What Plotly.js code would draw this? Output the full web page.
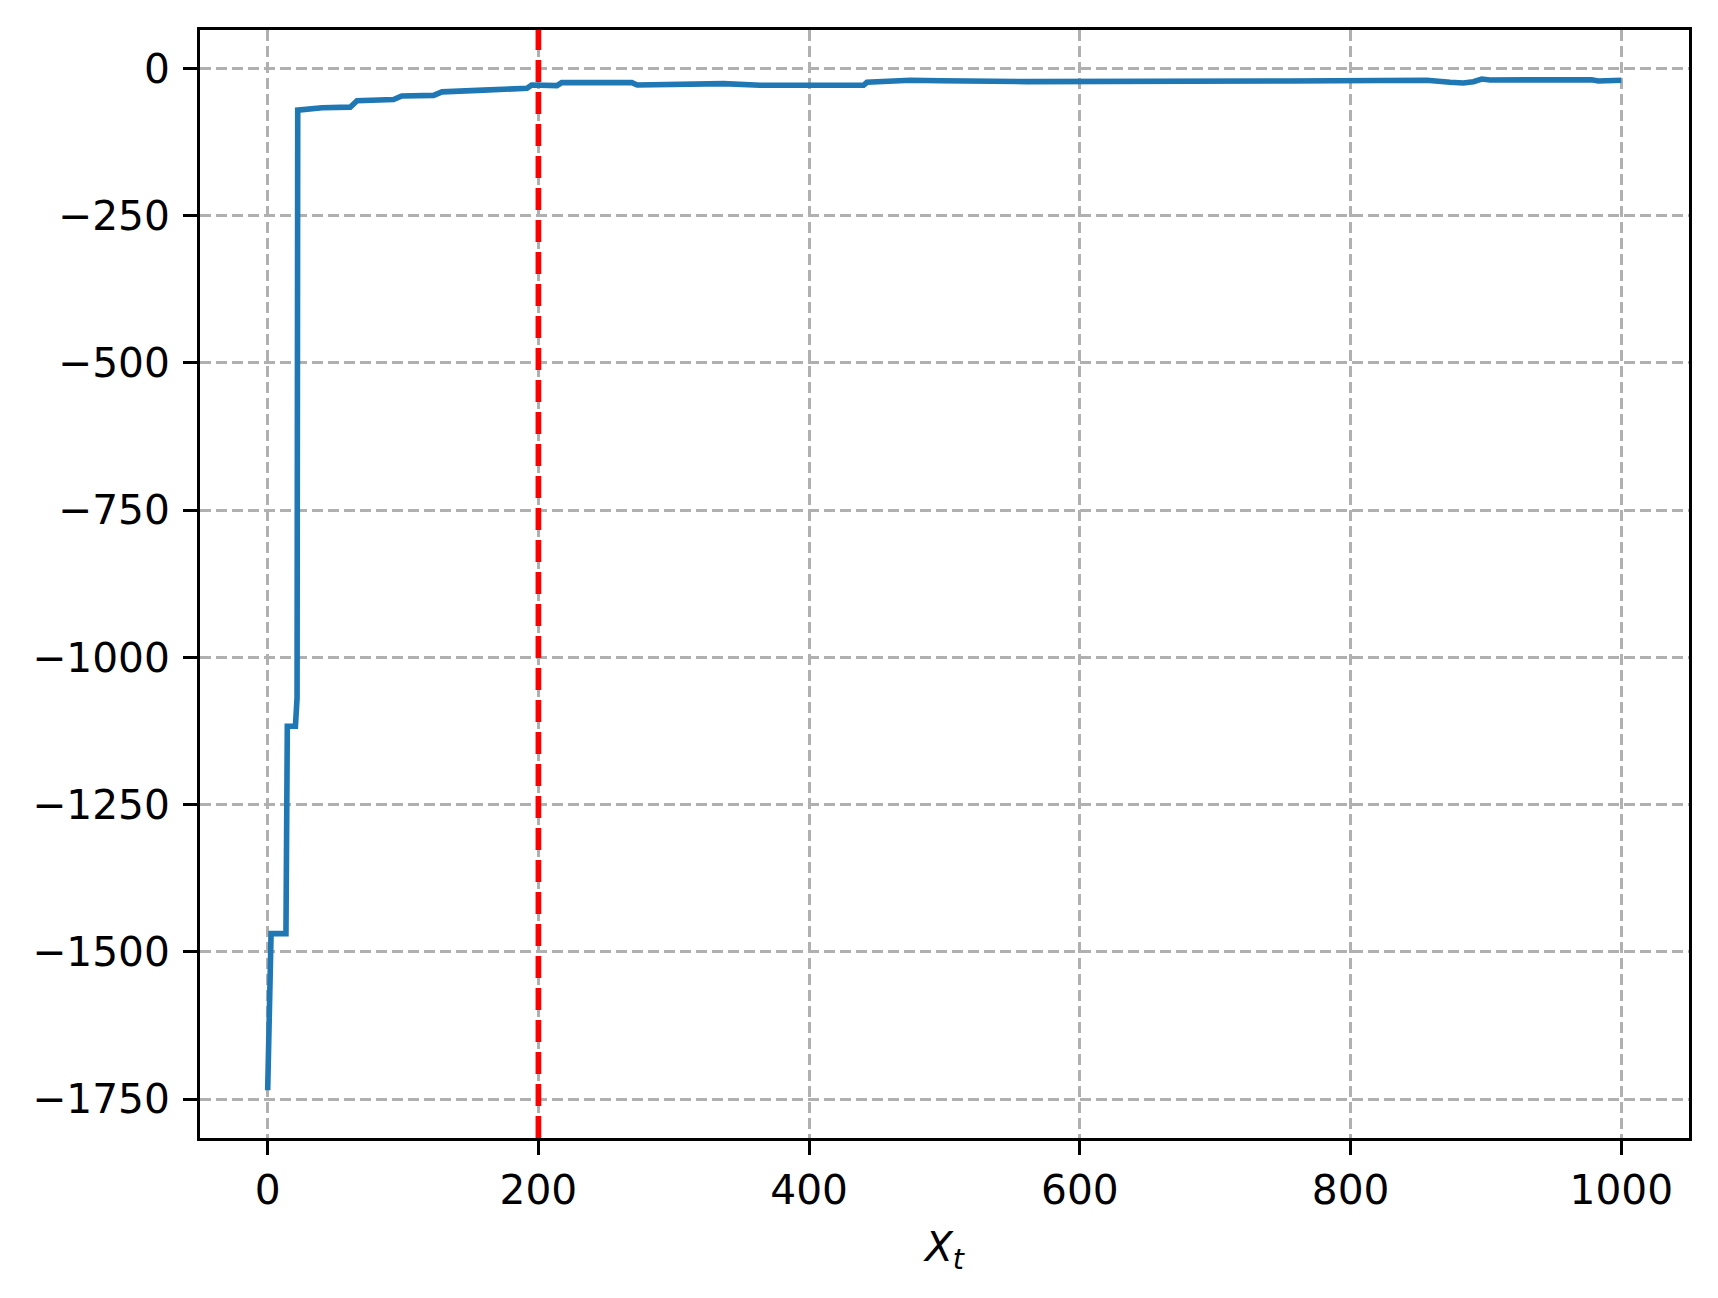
<!DOCTYPE html>
<html>
<head>
<meta charset="utf-8">
<script src="https://cdn.plot.ly/plotly-3.0.1.min.js"></script>
<style>html,body{margin:0;padding:0;background:#fff;}</style>
</head>
<body>
<div id="chart" style="width:1718px;height:1298px;"></div>
<script>
// Series
const stepX = [0, 1.5, 2.5, 13.5, 14.5, 20.5, 21.7, 22.2, 40.2, 61, 66, 93, 99, 122.6, 128.8, 159.5, 191.6, 195, 213.7, 217.2, 269, 273, 336.8, 363.9, 440.2, 442.7, 474.7, 496.8, 560.8, 755.3, 799.7, 856.3, 873.5, 883.3, 890.7, 896.9, 903, 942.4, 960, 978, 983, 1000];
const stepY = [-1735, -1570, -1469, -1469, -1117, -1117, -1069, -71, -67, -66, -55, -53, -47, -46, -40, -37, -34, -28.4, -29.5, -24.4, -24.4, -28.4, -26.1, -28.9, -28.9, -23.8, -20.4, -21.1, -22.7, -21.5, -20.4, -20.4, -23.8, -24.9, -22.7, -18.2, -19.8, -20.4, -18.7, -19.5, -21.5, -20.4];
const splitX = 200;
const xTicks = [0, 200, 400, 600, 800, 1000];
const yTicks = [0, -250, -500, -750, -1000, -1250, -1500, -1750];

const font = {family: 'DejaVu Sans', size: 40.7, color: '#000'};
const axisCommon = {
  showline: true, mirror: true, linecolor: '#000', linewidth: 3,
  ticks: 'outside', ticklen: 14, tickwidth: 3, tickcolor: '#000',
  showgrid: true, gridcolor: '#b0b0b0', gridwidth: 3, griddash: '11px,5px',
  zeroline: false, tickfont: font
};

const data = [{
  x: stepX, y: stepY, type: 'scatter', mode: 'lines',
  line: {color: '#1f77b4', width: 5.6}, hoverinfo: 'skip'
}];

const layout = {
  width: 1718, height: 1298,
  margin: {l: 200, r: 29, t: 30, b: 160},
  paper_bgcolor: '#fff', plot_bgcolor: '#fff',
  font: font, showlegend: false,
  xaxis: Object.assign({}, axisCommon, {
    range: [-50, 1050], tickmode: 'array', tickvals: xTicks,
    ticktext: xTicks.map(String),
    title: {text: '<i>X</i><sub><i>t</i></sub>', font: font, standoff: 20}
  }),
  yaxis: Object.assign({}, axisCommon, {
    range: [-1816, 65], tickmode: 'array', tickvals: yTicks,
    ticklabelstandoff: 5,
    ticktext: yTicks.map(v => v < 0 ? '\u2212' + Math.abs(v) : String(v))
  }),
  shapes: [{
    type: 'line', xref: 'x', yref: 'paper', x0: splitX, x1: splitX, y0: 0, y1: 1,
    line: {color: '#ff0000', width: 5.7, dash: '22px,10px'}, layer: 'above'
  }]
};

Plotly.newPlot('chart', data, layout, {staticPlot: true, displayModeBar: false});
</script>
</body>
</html>
